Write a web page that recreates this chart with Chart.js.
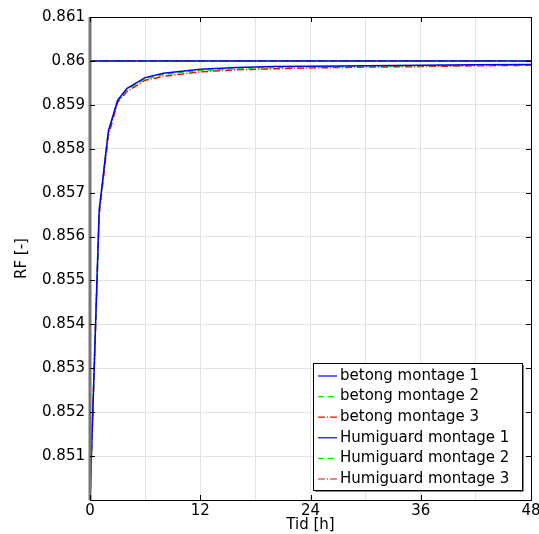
<!DOCTYPE html>
<html>
<head>
<meta charset="utf-8">
<script src="https://cdn.jsdelivr.net/npm/chart.js@4"></script>
<style>
  html, body { margin: 0; padding: 0; background: #fff; }
  #wrap { width: 539px; height: 534px; }
</style>
</head>
<body>
<div id="wrap"><canvas id="c"></canvas></div>
<script>
// tid [h]
var tid = [0, 1, 2, 3, 4, 6, 8, 12, 16, 20, 24, 30, 36, 42, 48];

// betong: stays at 0.86
var betong1 = [0.86, 0.86, 0.86, 0.86, 0.86, 0.86, 0.86, 0.86, 0.86, 0.86, 0.86, 0.86, 0.86, 0.86, 0.86];
var betong2 = [0.86, 0.86, 0.86, 0.86, 0.86, 0.86, 0.86, 0.86, 0.86, 0.86, 0.86, 0.86, 0.86, 0.86, 0.86];
var betong3 = [0.86, 0.86, 0.86, 0.86, 0.86, 0.86, 0.86, 0.86, 0.86, 0.86, 0.86, 0.86, 0.86, 0.86, 0.86];

// Humiguard
var humi1 = [0.85, 0.8566, 0.8584, 0.8591, 0.85937, 0.85962, 0.85972, 0.85981, 0.85985, 0.85987, 0.85988, 0.85989, 0.8599, 0.85991, 0.85992];
var humi2 = [0.85, 0.8566, 0.8584, 0.85908, 0.85934, 0.85959, 0.85969, 0.85978, 0.85982, 0.85985, 0.85986, 0.85988, 0.85989, 0.8599, 0.85991];
var humi3 = [0.85, 0.8565, 0.8583, 0.85905, 0.8593, 0.85956, 0.85965, 0.85975, 0.8598, 0.85982, 0.85984, 0.85986, 0.85987, 0.85989, 0.8599];

var names = ['betong montage 1', 'betong montage 2', 'betong montage 3',
             'Humiguard montage 1', 'Humiguard montage 2', 'Humiguard montage 3'];
var series = [betong1, betong2, betong3, humi1, humi2, humi3];
var colors = ['#0000ff', '#00ee00', '#ff0000', '#0000ff', '#00ee00', '#ff0000'];
var dashes = [[], [6, 4], [7, 2, 1, 2], [], [6, 4], [7, 2, 1, 2]];

var xTicks = [0, 12, 24, 36, 48];
var yTicks = [0.851, 0.852, 0.853, 0.854, 0.855, 0.856, 0.857, 0.858, 0.859, 0.86, 0.861];

var FONT = 'DejaVu Sans';

function pts(vals) {
  return tid.map(function (t, i) { return { x: t, y: vals[i] }; });
}

var datasets = series.map(function (s, i) {
  return {
    label: names[i],
    data: pts(s),
    borderColor: colors[i],
    borderDash: dashes[i],
    borderWidth: 1.5,
    pointRadius: 0,
    tension: 0,
    fill: false
  };
});

// frame, inner ticks and legend box
var framePlugin = {
  id: 'frame',
  afterDatasetsDraw: function (chart) {
    var ctx = chart.ctx, a = chart.chartArea;
    var xs = chart.scales.x, ys = chart.scales.y;
    ctx.save();
    ctx.strokeStyle = '#000';
    ctx.lineWidth = 1;
    ctx.strokeRect(a.left + 0.5, a.top + 0.5, a.right - a.left, a.bottom - a.top);
    // shaded left axis
    ctx.strokeStyle = '#777';
    ctx.lineWidth = 3;
    ctx.beginPath();
    ctx.moveTo(a.left, a.top);
    ctx.lineTo(a.left, a.bottom);
    ctx.stroke();
    ctx.strokeStyle = '#000';
    ctx.lineWidth = 1;
    ctx.beginPath();
    yTicks.forEach(function (v) {
      var y = Math.round(ys.getPixelForValue(v)) + 0.5;
      ctx.moveTo(a.left, y); ctx.lineTo(a.left + 5, y);
      ctx.moveTo(a.right, y); ctx.lineTo(a.right - 5, y);
    });
    xTicks.forEach(function (v) {
      var x = Math.round(xs.getPixelForValue(v)) + 0.5;
      ctx.moveTo(x, a.bottom); ctx.lineTo(x, a.bottom - 5);
      ctx.moveTo(x, a.top); ctx.lineTo(x, a.top + 5);
    });
    ctx.stroke();

    // legend
    var bx = 313, by = 363, bw = 209, bh = 127;
    ctx.fillStyle = '#fff';
    ctx.fillRect(bx, by, bw, bh);
    ctx.strokeStyle = '#000';
    ctx.strokeRect(bx + 0.5, by + 0.5, bw, bh);
    ctx.strokeStyle = '#888';
    ctx.beginPath();
    ctx.moveTo(bx + 2, by + bh + 1.5); ctx.lineTo(bx + bw + 1.5, by + bh + 1.5); ctx.lineTo(bx + bw + 1.5, by + 2);
    ctx.stroke();
    ctx.font = '15px "' + FONT + '"';
    ctx.textBaseline = 'middle';
    chart.data.datasets.forEach(function (d, i) {
      var y = by + 13 + i * 20.6;
      ctx.strokeStyle = d.borderColor;
      ctx.lineWidth = 1.2;
      ctx.setLineDash(d.borderDash);
      ctx.beginPath();
      ctx.moveTo(bx + 5, y); ctx.lineTo(bx + 24, y);
      ctx.stroke();
      ctx.setLineDash([]);
      ctx.fillStyle = '#000';
      ctx.fillText(d.label, bx + 27, y);
    });
    ctx.restore();
  }
};

new Chart(document.getElementById('c'), {
  type: 'line',
  data: { datasets: datasets },
  options: {
    responsive: true,
    maintainAspectRatio: false,
    animation: false,
    layout: { padding: { top: 17, right: 8, left: 0, bottom: 0 } },
    plugins: { legend: { display: false }, tooltip: { enabled: false } },
    scales: {
      x: {
        type: 'linear',
        min: 0, max: 48,
        border: { display: false },
        grid: { color: '#e3e3e3', drawTicks: false },
        ticks: {
          stepSize: 6,
          padding: 2,
          maxRotation: 0,
          color: '#000',
          font: { family: FONT, size: 15 },
          callback: function (v) { return v % 12 === 0 ? String(v) : ''; }
        },
        title: { display: true, text: 'Tid [h]', color: '#000', padding: 0,
                 font: { family: FONT, size: 15 } },
        afterFit: function (s) { s.height = 34; s.paddingRight = 0; s.paddingLeft = 0; }
      },
      y: {
        min: 0.85, max: 0.861,
        border: { display: false },
        grid: { color: '#e3e3e3', drawTicks: false },
        ticks: {
          stepSize: 0.001,
          padding: 5,
          color: '#000',
          font: { family: FONT, size: 15 },
          callback: function (v) {
            var r = Math.round(v * 1000) / 1000;
            return r === 0.85 ? '' : String(r);
          }
        },
        title: { display: true, text: 'RF [-]', color: '#000', padding: { top: 13, bottom: 0 },
                 font: { family: FONT, size: 15 } },
        afterFit: function (s) { s.width = 90; s.paddingTop = 0; s.paddingBottom = 0; }
      }
    }
  },
  plugins: [framePlugin]
});
</script>
</body>
</html>
